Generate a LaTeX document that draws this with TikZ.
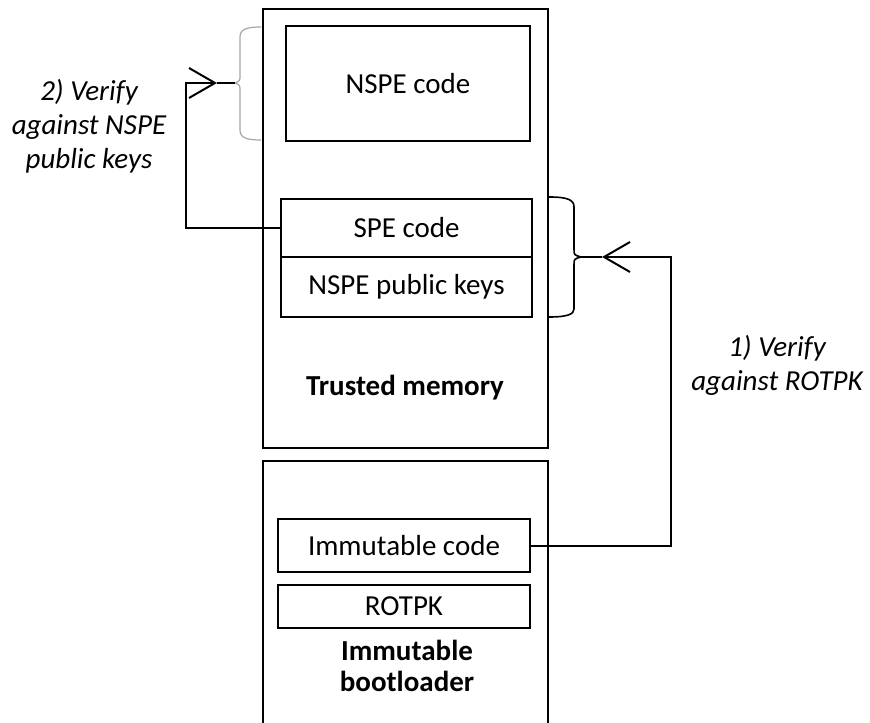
\documentclass[tikz,border=0pt]{standalone}
\usepackage{fontspec}
\setmainfont{Carlito}
\usetikzlibrary{arrows.meta}
\begin{document}
\begin{tikzpicture}[x=0.5pt, y=0.5pt,
    box/.style={draw, line width=1.2pt, inner sep=0pt},
    link/.style={line width=1pt, -{Straight Barb[length=13pt,width=15pt]}},
    note/.style={align=center, font=\fontsize{14.5pt}{17pt}\selectfont\itshape},
    every node/.style={font=\fontsize{14.5pt}{17pt}\selectfont}]
        \clip (0,0) rectangle (870,722);
        % trusted memory
        \node[box, minimum width=142.5pt, minimum height=219.5pt] (trusted) at (405.5,493.5) {};
        \node[box, minimum width=122pt, minimum height=57.5pt] (nspecode) at (408,638.5) {NSPE code};
        \node[box, minimum width=125.5pt, minimum height=29pt] (specode) at (406.5,494) {SPE code};
        \node[box, minimum width=125.5pt, minimum height=30pt] (nspekeys) at (406.5,435) {NSPE public keys};
        \node (trustedlabel) at (405,334) {\bfseries Trusted memory};

        % immutable bootloader
        \node[box, minimum width=142.5pt, minimum height=150pt] (boot) at (405.5,111) {};
        \node[box, minimum width=126pt, minimum height=26.5pt] (immcode) at (404,176.5) {Immutable code};
        \node[box, minimum width=126pt, minimum height=21.5pt] (rotpk) at (404,115.5) {ROTPK};
        \node[align=center, font=\fontsize{14.5pt}{15.5pt}\selectfont\bfseries] (bootlabel) at (407,56) {Immutable\\bootloader};

        % braces
        \coordinate (ltip) at (235,639);
        \coordinate (larrow) at (217,639);
        \draw[gray!70, line width=0.6pt] (261,695) .. controls (245,695) and (240,692) .. (240,685) -- (240,647)
            .. controls (240,641) .. (ltip) .. controls (240,637) .. (240,631) -- (240,592)
            .. controls (240,585) and (245,582) .. (261,582);
        \draw[line width=1pt] (ltip) -- (larrow);

        \coordinate (rtip) at (581,465);
        \coordinate (rarrow) at (602,465);
        \draw[line width=0.8pt] (549,525) .. controls (568,525) and (574,522) .. (574,515) -- (574,473)
            .. controls (574,467) .. (rtip) .. controls (574,463) .. (574,457) -- (574,413)
            .. controls (574,408) and (568,405) .. (549,405);
        \draw[line width=1pt] (rtip) -- (rarrow);

        % verification steps
        \draw[link] (specode.west) -- ++(-94,0) |- (larrow);
        \draw[link] (immcode.east) -- ++(140,0) |- (rarrow);
        \node[note] (step2) at (89,596) {2) Verify\\against NSPE\\public keys};
        \node[note] (step1) at (777,357) {1) Verify\\against ROTPK};
    \end{tikzpicture}
\end{document}
